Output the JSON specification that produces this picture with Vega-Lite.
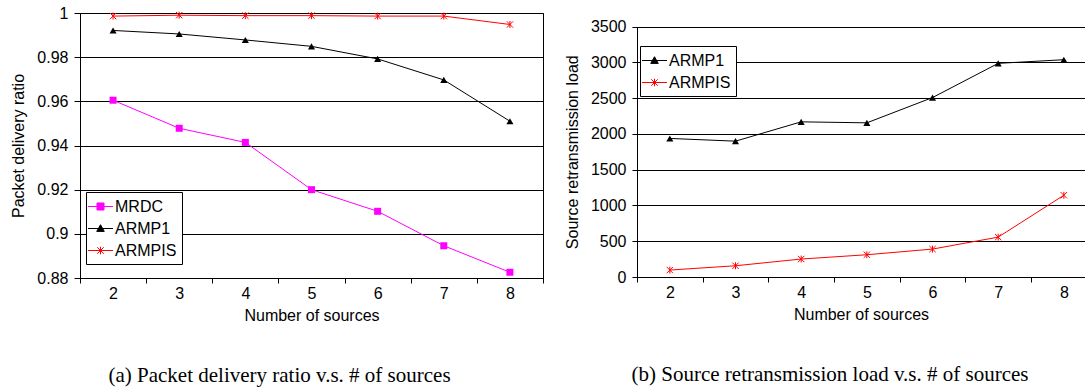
{
  "$schema": "https://vega.github.io/schema/vega-lite/v6.json",
  "padding": {"left": 10, "top": 4, "right": 0, "bottom": 0},
  "spacing": 20,
  "resolve": {"scale": {"fill": "independent", "stroke": "independent", "shape": "independent"}, "legend": {"fill": "independent", "stroke": "independent", "shape": "independent"}},
  "config": {
    "font": "Liberation Sans",
    "axis": {"labelFont": "Liberation Sans", "labelFontSize": 16, "labelColor": "black", "titleFont": "Liberation Sans", "titleFontSize": 16, "titleFontWeight": "normal", "titleColor": "black", "domainColor": "black", "tickColor": "black", "gridColor": "black", "gridWidth": 1},
    "legend": {"labelFont": "Liberation Sans", "labelFontSize": 16, "labelColor": "black", "symbolSize": 324, "symbolStrokeWidth": 1, "rowPadding": 4, "padding": 5, "strokeColor": "black", "fillColor": "white", "labelOffset": 5, "cornerRadius": 0}
  },
  "hconcat": [
    {
      "width": 463,
      "height": 265,
      "view": {"stroke": "black", "strokeWidth": 1},
      "title": {"text": "(a) Packet delivery ratio v.s. # of sources", "orient": "bottom", "anchor": "middle", "font": "Liberation Serif", "fontSize": 21, "fontWeight": "normal", "color": "black", "offset": 42, "dx": -32},
      "data": {"values": [
        {"n": 2, "s": "MRDC", "v": 0.9605}, {"n": 3, "s": "MRDC", "v": 0.9478}, {"n": 4, "s": "MRDC", "v": 0.9414}, {"n": 5, "s": "MRDC", "v": 0.9200}, {"n": 6, "s": "MRDC", "v": 0.9102}, {"n": 7, "s": "MRDC", "v": 0.8946}, {"n": 8, "s": "MRDC", "v": 0.8826},
        {"n": 2, "s": "ARMP1", "v": 0.9921}, {"n": 3, "s": "ARMP1", "v": 0.9905}, {"n": 4, "s": "ARMP1", "v": 0.9878}, {"n": 5, "s": "ARMP1", "v": 0.9849}, {"n": 6, "s": "ARMP1", "v": 0.9792}, {"n": 7, "s": "ARMP1", "v": 0.9697}, {"n": 8, "s": "ARMP1", "v": 0.9510},
        {"n": 2, "s": "ARMPIS", "v": 0.9986}, {"n": 3, "s": "ARMPIS", "v": 0.9990}, {"n": 4, "s": "ARMPIS", "v": 0.9988}, {"n": 5, "s": "ARMPIS", "v": 0.9988}, {"n": 6, "s": "ARMPIS", "v": 0.9986}, {"n": 7, "s": "ARMPIS", "v": 0.9986}, {"n": 8, "s": "ARMPIS", "v": 0.9948}
      ]},
      "encoding": {
        "x": {"field": "n", "type": "quantitative", "scale": {"domain": [1.5, 8.5], "nice": false, "zero": false},
          "axis": {"title": "Number of sources", "values": [1.5, 2, 2.5, 3, 3.5, 4, 4.5, 5, 5.5, 6, 6.5, 7, 7.5, 8, 8.5], "labelExpr": "datum.value % 1 === 0 ? '' + datum.value : ''", "tickOpacity": {"condition": {"test": "datum.value % 1 === 0", "value": 0}, "value": 1}, "tickSize": 5, "labelPadding": 2, "titlePadding": 6, "grid": false, "labelFlush": false, "labelOverlap": false}},
        "y": {"field": "v", "type": "quantitative", "scale": {"domain": [0.88, 1.0], "nice": false, "zero": false},
          "axis": {"title": "Packet delivery ratio", "values": [0.88, 0.9, 0.92, 0.94, 0.96, 0.98, 1.0], "format": "~g", "tickSize": 6, "labelPadding": 6, "titlePadding": 10, "grid": true}}
      },
      "layer": [
        {"mark": {"type": "line", "strokeWidth": 1},
         "encoding": {"stroke": {"field": "s", "type": "nominal", "scale": {"domain": ["MRDC", "ARMP1", "ARMPIS"], "range": ["#ff00ff", "#000000", "#ff0000"]}, "legend": {"title": null, "orient": "none", "legendX": 6, "legendY": 179}}}},
        {"mark": {"type": "point", "size": 0, "filled": true, "strokeWidth": 1, "opacity": 1},
         "encoding": {
           "fill": {"field": "s", "type": "nominal", "scale": {"domain": ["MRDC", "ARMP1", "ARMPIS"], "range": ["#ff00ff", "#000000", "#ff0000"]}, "legend": {"title": null, "orient": "none", "legendX": 6, "legendY": 179}},
           "stroke": {"field": "s", "type": "nominal", "legend": {"title": null, "orient": "none", "legendX": 6, "legendY": 179}},
           "shape": {"field": "s", "type": "nominal", "scale": {"domain": ["MRDC", "ARMP1", "ARMPIS"], "range": ["M-1.39,0H1.39M-0.39,-0.39H0.39V0.39H-0.39Z", "M-1.39,0H1.39M0,-0.42L0.42,0.32H-0.42Z", "M-1.39,0H1.39M-0.36,-0.36L0.36,0.36M-0.36,0.36L0.36,-0.36M0,-0.42V0.42"]}, "legend": {"title": null, "orient": "none", "legendX": 6, "legendY": 179}}
         }},
        {"transform": [{"filter": {"field": "s", "equal": "MRDC"}}],
         "mark": {"type": "point", "shape": "square", "size": 49, "filled": true, "color": "#ff00ff", "opacity": 1}},
        {"transform": [{"filter": {"field": "s", "equal": "ARMP1"}}],
         "mark": {"type": "point", "shape": "triangle-up", "size": 50, "filled": true, "color": "#000000", "opacity": 1}},
        {"transform": [{"filter": {"field": "s", "equal": "ARMPIS"}}],
         "mark": {"type": "point", "shape": "M-1,-1L1,1M-1,1L1,-1M0,-1.1V1.1", "size": 40, "filled": false, "color": "#ff0000", "strokeWidth": 1, "opacity": 1}}
      ]
    },
    {
      "width": 448,
      "height": 264,
      "view": {"stroke": null},
      "title": {"text": "(b) Source retransmission load v.s. # of sources", "orient": "bottom", "anchor": "middle", "font": "Liberation Serif", "fontSize": 21, "fontWeight": "normal", "color": "black", "offset": 42, "dx": -31},
      "data": {"values": [
        {"n": 2, "s": "ARMP1", "v": 1936}, {"n": 3, "s": "ARMP1", "v": 1898}, {"n": 4, "s": "ARMP1", "v": 2168}, {"n": 5, "s": "ARMP1", "v": 2154}, {"n": 6, "s": "ARMP1", "v": 2507}, {"n": 7, "s": "ARMP1", "v": 2985}, {"n": 8, "s": "ARMP1", "v": 3036},
        {"n": 2, "s": "ARMPIS", "v": 97}, {"n": 3, "s": "ARMPIS", "v": 157}, {"n": 4, "s": "ARMPIS", "v": 251}, {"n": 5, "s": "ARMPIS", "v": 311}, {"n": 6, "s": "ARMPIS", "v": 390}, {"n": 7, "s": "ARMPIS", "v": 557}, {"n": 8, "s": "ARMPIS", "v": 1142}
      ]},
      "encoding": {
        "x": {"field": "n", "type": "quantitative", "scale": {"domain": [1.5, 8.322], "nice": false, "zero": false},
          "axis": {"title": "Number of sources", "values": [1.5, 2, 2.5, 3, 3.5, 4, 4.5, 5, 5.5, 6, 6.5, 7, 7.5, 8], "labelExpr": "datum.value % 1 === 0 ? '' + datum.value : ''", "tickOpacity": {"condition": {"test": "datum.value % 1 === 0", "value": 0}, "value": 1}, "tickSize": 5, "labelPadding": 2, "titlePadding": 6, "grid": false, "labelFlush": false, "labelOverlap": false}},
        "y": {"field": "v", "type": "quantitative", "scale": {"domain": [0, 3500], "nice": false, "zero": true, "range": [264, 13.5]},
          "axis": {"title": "Source retransmission load", "values": [0, 500, 1000, 1500, 2000, 2500, 3000, 3500], "format": "d", "tickSize": 5, "labelPadding": 6, "titlePadding": 10, "grid": true}}
      },
      "layer": [
        {"mark": {"type": "line", "strokeWidth": 1},
         "encoding": {"stroke": {"field": "s", "type": "nominal", "scale": {"domain": ["ARMP1", "ARMPIS"], "range": ["#000000", "#ff0000"]}, "legend": {"title": null, "orient": "none", "legendX": 3, "legendY": 33}}}},
        {"mark": {"type": "point", "size": 0, "filled": true, "strokeWidth": 1, "opacity": 1},
         "encoding": {
           "fill": {"field": "s", "type": "nominal", "scale": {"domain": ["ARMP1", "ARMPIS"], "range": ["#000000", "#ff0000"]}, "legend": {"title": null, "orient": "none", "legendX": 3, "legendY": 33}},
           "stroke": {"field": "s", "type": "nominal", "legend": {"title": null, "orient": "none", "legendX": 3, "legendY": 33}},
           "shape": {"field": "s", "type": "nominal", "scale": {"domain": ["ARMP1", "ARMPIS"], "range": ["M-1.39,0H1.39M0,-0.42L0.42,0.32H-0.42Z", "M-1.39,0H1.39M-0.36,-0.36L0.36,0.36M-0.36,0.36L0.36,-0.36M0,-0.42V0.42"]}, "legend": {"title": null, "orient": "none", "legendX": 3, "legendY": 33}}
         }},
        {"transform": [{"filter": {"field": "s", "equal": "ARMP1"}}],
         "mark": {"type": "point", "shape": "triangle-up", "size": 50, "filled": true, "color": "#000000", "opacity": 1}},
        {"transform": [{"filter": {"field": "s", "equal": "ARMPIS"}}],
         "mark": {"type": "point", "shape": "M-1,-1L1,1M-1,1L1,-1M0,-1.1V1.1", "size": 40, "filled": false, "color": "#ff0000", "strokeWidth": 1, "opacity": 1}}
      ]
    }
  ]
}
